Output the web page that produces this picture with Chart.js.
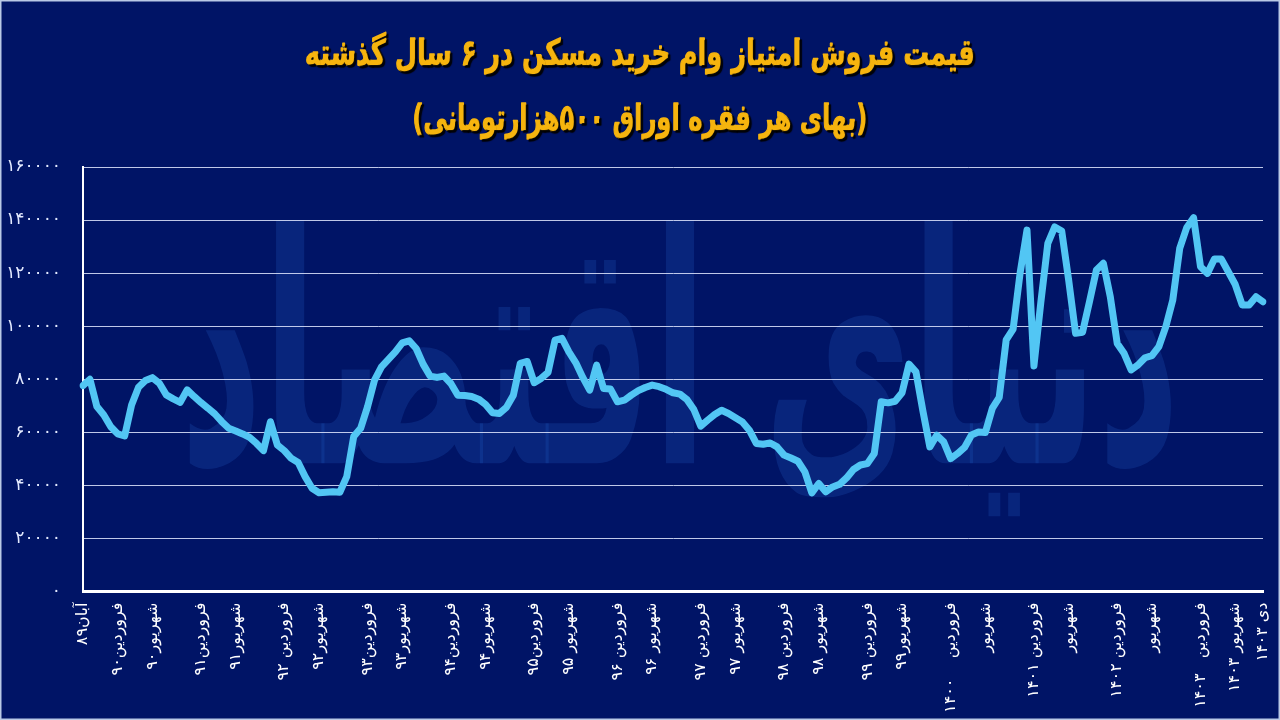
<!DOCTYPE html>
<html lang="fa">
<head>
<meta charset="utf-8">
<title>قیمت فروش امتیاز وام خرید مسکن</title>
<script src="https://cdn.jsdelivr.net/npm/chart.js@4.4.1/dist/chart.umd.min.js"></script>
<style>
  html, body { margin: 0; padding: 0; background: #001466; }
  canvas { display: block; }
</style>
</head>
<body>
<canvas id="chart" width="1280" height="720"></canvas>
<script>
// price of one housing-loan certificate (toman), monthly, آبان ۸۹ .. دی ۱۴۰۳
const prices = [
  77600, 80000, 69700, 66500, 62100, 59400, 58600, 70300, 77000, 79500,
  80600, 78500, 74100, 72600, 71300, 76000, 73500, 71200, 69100, 66900,
  64000, 61500, 60500, 59400, 58100, 55800, 53100, 64000, 55200, 53100,
  50200, 48600, 43300, 38900, 37200, 37400, 37600, 37400, 43300, 58400,
  61500, 69700, 79700, 84700, 87500, 90300, 93700, 94500, 91600, 85700,
  81200, 80700, 81200, 78400, 74000, 73900, 73500, 72500, 70500, 67400,
  67100, 69400, 74000, 86000, 86700, 78700, 80300, 82600, 94700, 95400,
  90300, 86200, 80700, 75900, 85300, 76500, 76300, 71500, 72100, 74000,
  75700, 76900, 77800, 77200, 76200, 74900, 74400, 72400, 68600, 62300,
  64600, 66700, 68300, 67100, 65500, 63900, 60800, 55800, 55500, 56000,
  54500, 51400, 50300, 49100, 45100, 37200, 40700, 37600, 39400, 40400,
  42800, 46000, 47700, 48200, 52000, 71500, 71100, 71700, 74900, 85700,
  82800, 68100, 54500, 58900, 56400, 50100, 52000, 54300, 59000, 60100,
  59900, 69000, 73200, 94800, 98900, 119900, 136200, 85000, 109200, 131200,
  137400, 135900, 117400, 97300, 97700, 109200, 121200, 123700, 111100, 93500,
  89700, 83500, 85400, 88100, 88900, 92300, 99800, 109800, 129300, 137100,
  140900, 122400, 119900, 125300, 125300, 120500, 115700, 108000, 108000, 111100,
  109200
];

const monthNames = ['فروردین', 'اردیبهشت', 'خرداد', 'تیر', 'مرداد', 'شهریور',
  'مهر', 'آبان', 'آذر', 'دی', 'بهمن', 'اسفند'];

// only these months get a label under the axis
const tickIndex = [0, 5, 10, 17, 22, 29, 34, 41, 46, 53, 58, 65, 70, 77, 82,
  89, 94, 101, 106, 113, 118, 125, 130, 137, 142, 149, 154, 161, 166, 170];
const tickText = [
  'آبان۸۹', 'فروردین۹۰', 'شهریور۹۰', 'فروردین۹۱', 'شهریور۹۱',
  'فروردین ۹۲', 'شهریور۹۲', 'فروردین۹۳', 'شهریور۹۳', 'فروردین۹۴',
  'شهریور۹۴', 'فروردین۹۵', 'شهریور ۹۵', 'فروردین ۹۶', 'شهریور ۹۶',
  'فروردین ۹۷', 'شهریور ۹۷', 'فروردین ۹۸', 'شهریور ۹۸', 'فروردین ۹۹',
  'شهریور۹۹', 'فروردین    ۱۴۰۰', 'شهریور', 'فروردین ۱۴۰۱', 'شهریور',
  'فروردین ۱۴۰۲', 'شهریور', 'فروردین   ۱۴۰۳', 'شهریور ۱۴۰۳', 'دی ۱۴۰۳'
];

const titleLines = [
  'قیمت فروش امتیاز وام خرید مسکن در ۶ سال گذشته',
  '(بهای هر فقره اوراق ۵۰۰هزارتومانی)'
];

const toFa = (n) => String(n).replace(/\d/g, (d) => '۰۱۲۳۴۵۶۷۸۹'[d]);

// one category per month, starting at آبان ۱۳۸۹
const months = [];
for (let i = 0; i < prices.length; i++) {
  const m = (7 + i) % 12;
  const y = 1389 + Math.floor((7 + i) / 12);
  months.push(monthNames[m] + ' ' + toFa(y));
}

const FONT = '"DejaVu Sans", "Noto Sans", sans-serif';

const background = {
  id: 'background',
  beforeDraw(chart) {
    const { ctx, width, height } = chart;
    ctx.save();
    ctx.fillStyle = '#001466';
    ctx.fillRect(0, 0, width, height);
    ctx.strokeStyle = '#b9c9e6';
    ctx.lineWidth = 3;
    ctx.strokeRect(0, 0, width, height);

    // faint logo behind the plot
    ctx.direction = 'rtl';
    ctx.textAlign = 'center';
    ctx.textBaseline = 'middle';
    ctx.font = 'bold 200px ' + FONT;
    const w = ctx.measureText('دنیای اقتصاد').width;
    ctx.translate(680, 380);
    ctx.scale(1000 / w, 1.6);
    ctx.fillStyle = 'rgba(30, 90, 190, 0.26)';
    ctx.fillText('دنیای اقتصاد', 0, 0);
    ctx.restore();
  }
};

// squeeze a title line to the width it has in the original
function drawTitle(ctx, text, y, targetWidth) {
  const w = ctx.measureText(text).width;
  ctx.save();
  ctx.translate(640, y);
  ctx.scale(targetWidth / w, 1);
  ctx.strokeText(text, 0, 0);
  ctx.fillText(text, 0, 0);
  ctx.restore();
}

const titles = {
  id: 'titles',
  afterDraw(chart) {
    const ctx = chart.ctx;
    ctx.save();
    ctx.direction = 'rtl';
    ctx.textAlign = 'center';
    ctx.textBaseline = 'middle';
    ctx.font = 'bold 36px ' + FONT;
    ctx.fillStyle = '#f6b40e';
    ctx.strokeStyle = '#f6b40e';
    ctx.lineWidth = 1.5;
    ctx.lineJoin = 'round';
    ctx.shadowColor = 'rgba(0, 0, 0, 0.9)';
    ctx.shadowOffsetX = 2;
    ctx.shadowOffsetY = 2;
    ctx.shadowBlur = 1;
    drawTitle(ctx, titleLines[0], 56, 670);
    drawTitle(ctx, titleLines[1], 121, 455);
    ctx.restore();
  }
};

new Chart(document.getElementById('chart'), {
  type: 'line',
  data: {
    labels: months,
    datasets: [{
      label: 'قیمت امتیاز',
      data: prices,
      borderColor: '#52c6f4',
      borderWidth: 7,
      borderJoinStyle: 'round',
      borderCapStyle: 'round',
      pointRadius: 0,
      tension: 0,
      fill: false,
    }],
  },
  options: {
    responsive: false,
    animation: false,
    devicePixelRatio: 1,
    layout: { padding: { top: 167, right: 17, bottom: 0, left: 0 } },
    plugins: {
      legend: { display: false },
      title: { display: false },
      tooltip: { enabled: false },
    },
    scales: {
      x: {
        grid: { display: false, drawTicks: false },
        border: { color: '#ffffff', width: 3 },
        afterFit(scale) {
          scale.height = 128.5;
          scale.paddingLeft = 0;
          scale.paddingRight = 0;
        },
        ticks: {
          autoSkip: false,
          minRotation: 90,
          maxRotation: 90,
          padding: 11,
          color: '#ffffff',
          font: { family: FONT, size: 16 },
          callback(value, index) {
            const k = tickIndex.indexOf(index);
            return k >= 0 ? tickText[k] : '';
          },
        },
      },
      y: {
        min: 0,
        max: 160000,
        grid: { color: 'rgba(225, 232, 255, 0.85)', lineWidth: 1, drawTicks: false },
        border: { color: '#ffffff', width: 2 },
        afterFit(scale) { scale.width = 83; },
        ticks: {
          stepSize: 20000,
          padding: 22,
          color: '#e3eaff',
          font: { family: FONT, size: 17 },
          callback: (v) => toFa(v),
        },
      },
    },
  },
  plugins: [background, titles],
});
</script>
</body>
</html>
